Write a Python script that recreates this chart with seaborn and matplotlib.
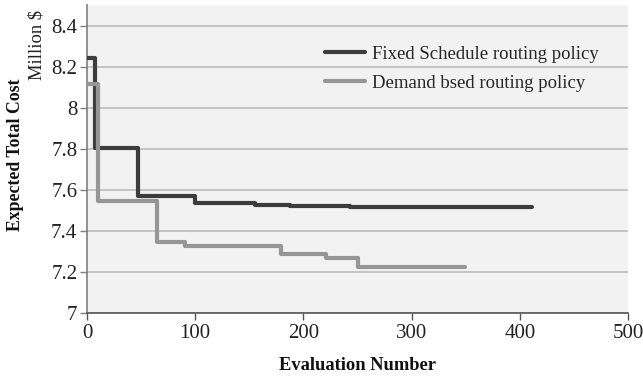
import matplotlib
matplotlib.use("Agg")
import matplotlib.pyplot as plt
import seaborn as sns
import pandas as pd

# Data (step change points)
fixed_x = [0, 7, 47, 100, 155, 188, 243, 323, 411]
fixed_y = [8.24, 7.805, 7.571, 7.534, 7.526, 7.520, 7.516, 7.514, 7.514]
demand_x = [0, 10, 65, 91, 179, 221, 250, 349]
demand_y = [8.117, 7.543, 7.348, 7.324, 7.288, 7.267, 7.224, 7.224]
series_names = ["Fixed Schedule routing policy", "Demand bsed routing policy"]
x_ticks = [0, 100, 200, 300, 400, 500]
y_ticks = [7, 7.2, 7.4, 7.6, 7.8, 8, 8.2, 8.4]
y_tick_labels = ["7", "7.2", "7.4", "7.6", "7.8", "8", "8.2", "8.4"]

df = pd.concat([
    pd.DataFrame({"x": fixed_x, "y": fixed_y, "policy": series_names[0]}),
    pd.DataFrame({"x": demand_x, "y": demand_y, "policy": series_names[1]}),
], ignore_index=True)

sns.set_theme(style="white")
plt.rcParams["font.family"] = ["Liberation Serif", "DejaVu Serif"]

fig = plt.figure(figsize=(6.43, 3.77), dpi=100)
ax = fig.add_axes([0.1353, 0.1698, 0.8414, 0.8169])
ax.set_facecolor("#f2f2f2")

sns.lineplot(data=df, x="x", y="y", hue="policy", hue_order=series_names,
             palette=["#3c3c3c", "#969696"], estimator=None, sort=True,
             drawstyle="steps-post", linewidth=3.0, ax=ax, zorder=3)

ax.set_xlim(0, 500)
ax.set_ylim(7, 8.5)
ax.set_xticks(x_ticks)
ax.set_yticks(y_ticks)
ax.set_yticklabels(y_tick_labels)
ax.grid(axis="y", color="#bdbdbd", linewidth=1.2, zorder=0)
ax.grid(axis="x", visible=False)
ax.set_axisbelow(True)

for s in ["top", "right"]:
    ax.spines[s].set_visible(False)
ax.spines["left"].set_color("#7f7f7f")
ax.spines["left"].set_linewidth(1.2)
ax.spines["bottom"].set_color("#555555")
ax.spines["bottom"].set_linewidth(1.2)

ax.tick_params(axis="x", direction="out", length=5, width=1.0, color="#555555",
               labelsize=15, pad=3, bottom=True)
ax.tick_params(axis="y", direction="out", length=5, width=1.0, color="#7f7f7f",
               labelsize=15, pad=2, left=True)
for lab in ax.get_xticklabels() + ax.get_yticklabels():
    lab.set_color("#222222")

ax.set_xlabel("Evaluation Number", fontsize=13.3, fontweight="bold", labelpad=10, color="#111111")
ax.set_ylabel("")
fig.text(0.024, 0.59, "Expected Total Cost", rotation=90, fontsize=12.8, fontweight="bold",
         ha="center", va="center", color="#111111")
fig.text(0.057, 0.975, "Million $", rotation=90, fontsize=13.3, ha="center", va="top",
         color="#222222")

leg = ax.legend(loc="upper left", bbox_to_anchor=(0.44, 0.868), frameon=False,
                fontsize=13.5, handlelength=2.15, handletextpad=0.35, labelspacing=0.62,
                borderpad=0, borderaxespad=0)
for line in leg.get_lines():
    line.set_linewidth(3.0)

fig.savefig("out.png", dpi=100)
